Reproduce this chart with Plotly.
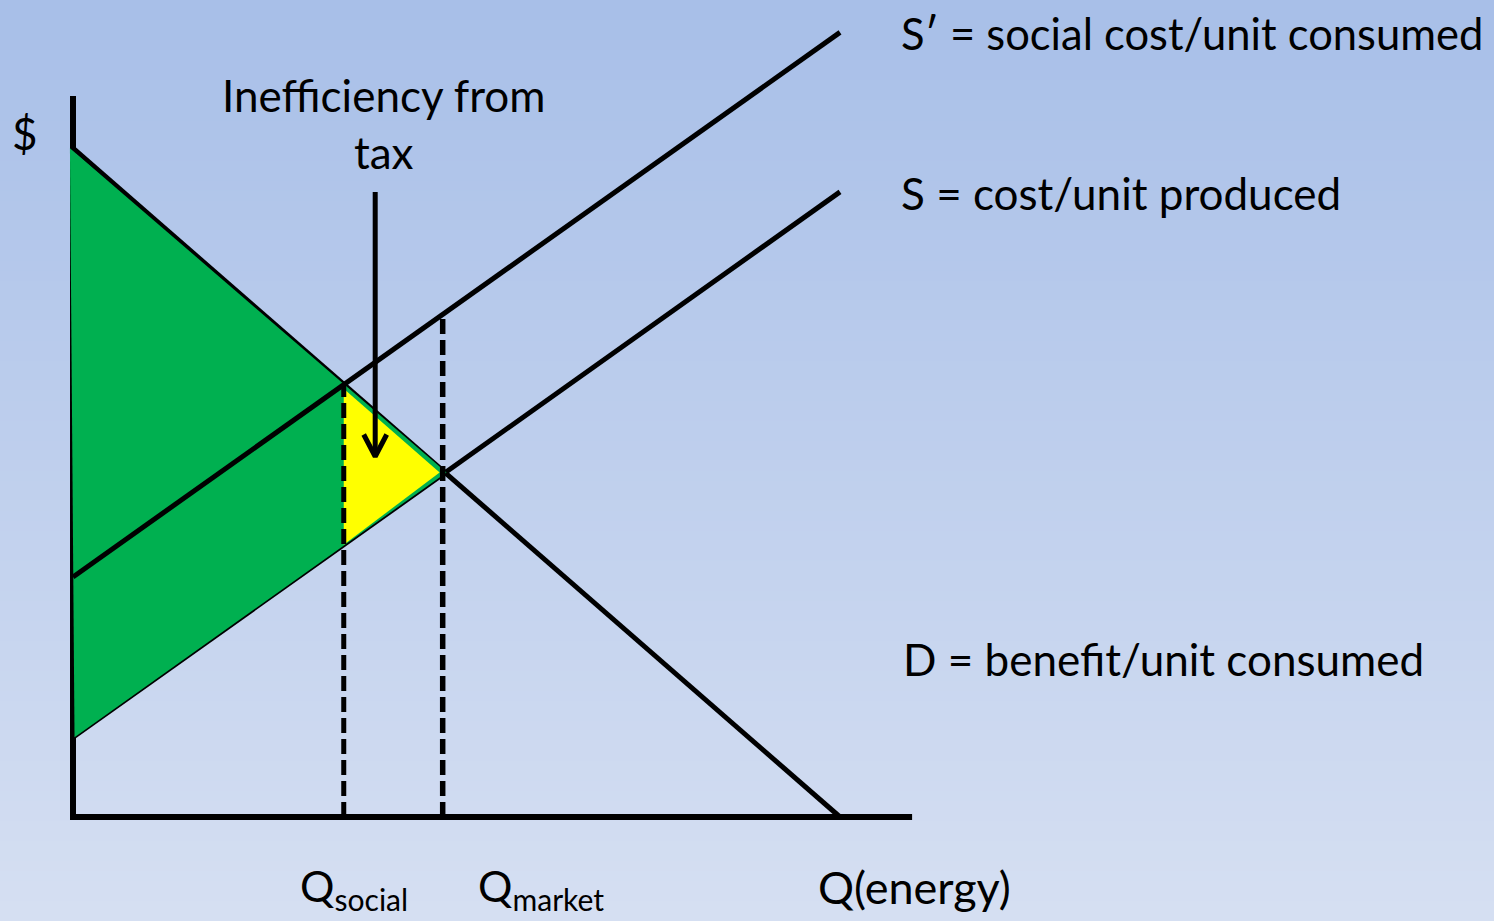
import numpy as np
import plotly.graph_objects as go

# ---------------- data (units: price / quantity) ----------------
demand_q = [0.0, 10.0]
demand_p = [8.72, 0.0]
supply_q = [0.0, 10.0]
supply_p = [1.04, 8.15]
social_q = [0.0, 10.0]
social_p = [3.13, 10.23]
q_social = 3.53
q_market = 4.82
axis_q_max = 10.94
axis_p_max = 9.40
arrow_q = 3.94
arrow_p_top = 8.15
arrow_p_tip = 4.70

labels = {
    "sprime": "S\u2032 = social cost/unit consumed",
    "s": "S = cost/unit produced",
    "d": "D = benefit/unit consumed",
    "dollar": "$",
    "ineff": "Inefficiency from<br>tax",
    "qsocial": "Q<sub>social</sub>",
    "qmarket": "Q<sub>market</sub>",
    "qenergy": "Q(energy)",
}

# ---------------- layout geometry ----------------
W, H = 1494, 921
U = 76.7          # pixels per unit
OX, OY = 73, 817  # origin pixel
xr = [-OX / U, (W - OX) / U]
yr = [-(H - OY) / U, OY / U]

def D(q):
    return float(np.interp(q, demand_q, demand_p))

def S(q):
    return float(np.interp(q, supply_q, supply_p))

def SP(q):
    return float(np.interp(q, social_q, social_p))

p_market = (D(q_market) + S(q_market)) / 2
FONT = "Lato"
LW = 5
fig = go.Figure()

# axes
fig.add_trace(go.Scatter(x=[0, 0, axis_q_max], y=[axis_p_max, 0, 0], mode="lines",
                         line=dict(color="black", width=6), hoverinfo="skip"))
# demand & supply
fig.add_trace(go.Scatter(x=demand_q, y=demand_p, mode="lines",
                         line=dict(color="black", width=LW), hoverinfo="skip"))
fig.add_trace(go.Scatter(x=supply_q, y=supply_p, mode="lines",
                         line=dict(color="black", width=LW), hoverinfo="skip"))
# green surplus triangle
pad = 0.04
fig.add_trace(go.Scatter(x=[-pad, q_market + 0.05, pad * 0.5, -pad], y=[D(0), p_market, S(0), D(0)],
                         mode="lines", fill="toself", fillcolor="#00B050",
                         line=dict(width=0, color="#00B050"), hoverinfo="skip"))
# yellow deadweight loss triangle
fig.add_trace(go.Scatter(x=[q_social, q_market - 0.04, q_social, q_social],
                         y=[D(q_social) - 0.06, p_market, S(q_social), D(q_social) - 0.06],
                         mode="lines", fill="toself", fillcolor="#FFFF00",
                         line=dict(width=0, color="#FFFF00"), hoverinfo="skip"))
# social cost line
fig.add_trace(go.Scatter(x=social_q, y=social_p, mode="lines",
                         line=dict(color="black", width=LW), hoverinfo="skip"))
# dashed lines
fig.add_trace(go.Scatter(x=[q_social, q_social], y=[0, SP(q_social)], mode="lines",
                         line=dict(color="black", width=5, dash="15px,6px"), hoverinfo="skip"))
fig.add_trace(go.Scatter(x=[q_market, q_market], y=[0, SP(q_market)], mode="lines",
                         line=dict(color="black", width=5.5, dash="15px,6px"), hoverinfo="skip"))
# arrow
hw = 11.5 / U
hh = 22 / U
fig.add_trace(go.Scatter(x=[arrow_q, arrow_q], y=[arrow_p_top, arrow_p_tip + 0.05], mode="lines",
                         line=dict(color="black", width=5), hoverinfo="skip"))
fig.add_trace(go.Scatter(x=[arrow_q - hw, arrow_q, arrow_q + hw],
                         y=[arrow_p_tip + hh, arrow_p_tip, arrow_p_tip + hh], mode="lines",
                         line=dict(color="black", width=5), hoverinfo="skip"))

def px2q(x):
    return (x - OX) / U

def py2p(y):
    return (OY - y) / U

def ann(text, x, y, xanchor="left", size=44, align="left", yanchor="middle"):
    fig.add_annotation(x=px2q(x), y=py2p(y), text=text, showarrow=False,
                       xanchor=xanchor, yanchor=yanchor, align=align,
                       font=dict(family=FONT, size=size, color="black"))

ann(labels["sprime"], 899, 33, size=43.5)
ann(labels["s"], 899, 193)
ann(labels["d"], 901, 659)
ann(labels["dollar"], 25, 133, xanchor="center")
ann(labels["ineff"], 384, 123, xanchor="center", align="center")
ann(labels["qsocial"], 298, 919, yanchor="bottom", size=43)
ann(labels["qmarket"], 476, 919, yanchor="bottom", size=43)
ann(labels["qenergy"], 816, 887, size=45)

# background gradient stripes
top = np.array([168, 191, 232])
bot = np.array([213, 223, 242])
n = 92
shapes = []
for i in range(n):
    t = i / (n - 1)
    c = top + (bot - top) * t
    shapes.append(dict(type="rect", xref="paper", yref="paper",
                       x0=0, x1=1, y0=1 - (i + 1) / n - 0.002, y1=1 - i / n,
                       fillcolor="rgb(%d,%d,%d)" % tuple(c.round().astype(int)),
                       line=dict(width=0), layer="below"))

fig.update_layout(
    width=W, height=H, margin=dict(l=0, r=0, t=0, b=0),
    paper_bgcolor="rgb(190,207,237)", plot_bgcolor="rgba(0,0,0,0)",
    showlegend=False, shapes=shapes,
    xaxis=dict(range=xr, visible=False, fixedrange=True),
    yaxis=dict(range=yr, visible=False, fixedrange=True),
    hovermode=False,
)
fig.write_html("out.html", config={"displayModeBar": False})

# remove the browser's default page margin so the figure sits at the window's corner
with open("out.html", "r", encoding="utf-8") as fh:
    html = fh.read()
html = html.replace("<head>", "<head><style>html,body{margin:0;padding:0;overflow:hidden;}</style>", 1)
with open("out.html", "w", encoding="utf-8") as fh:
    fh.write(html)
